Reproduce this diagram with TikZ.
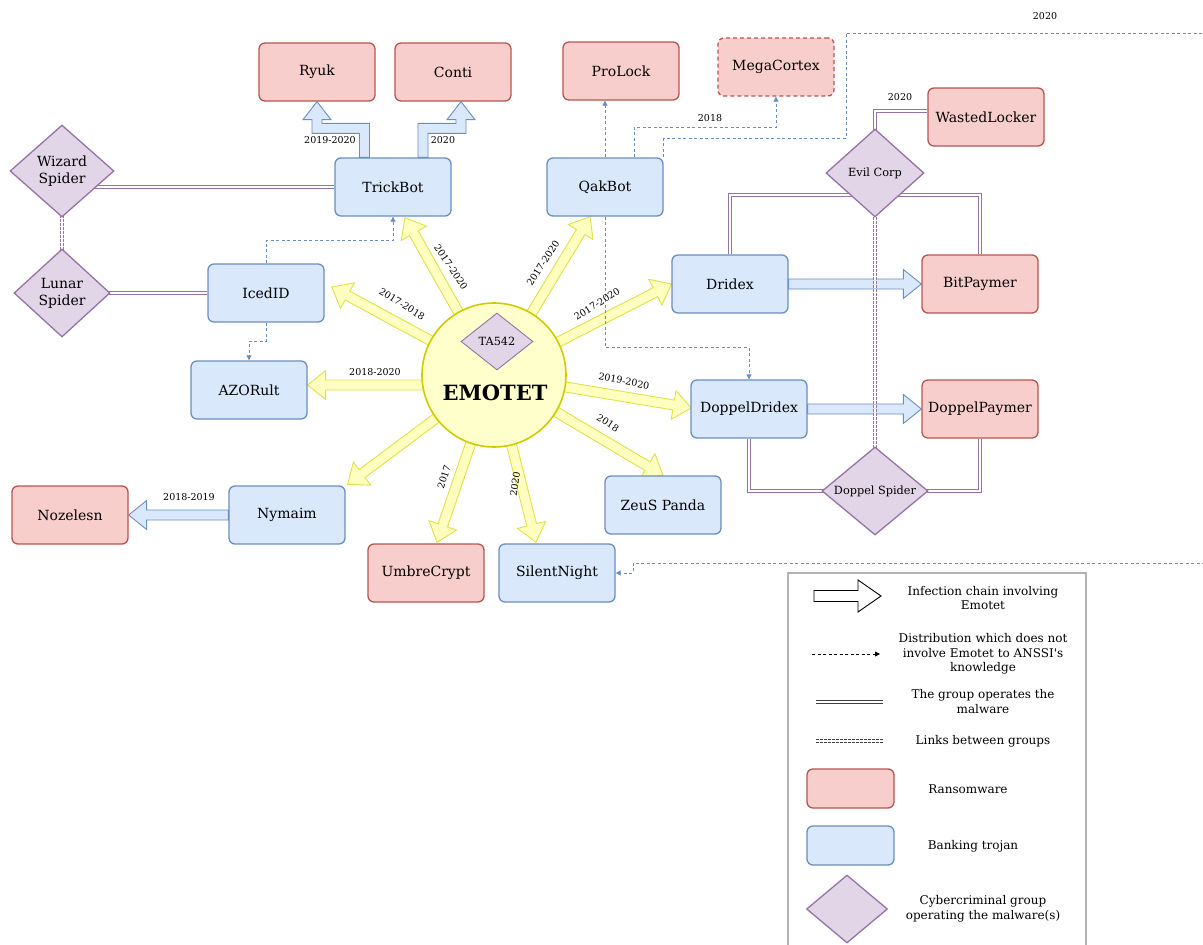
\documentclass[tikz,border=0pt]{standalone}
\usepackage{fontspec}
\setmainfont{DejaVu Serif}
\usetikzlibrary{shapes.geometric,calc,arrows.meta}
\definecolor{rfill}{HTML}{F8CECC}
\definecolor{rdraw}{HTML}{B85450}
\definecolor{bfill}{HTML}{DAE8FC}
\definecolor{bdraw}{HTML}{6C8EBF}
\definecolor{gfill}{HTML}{E1D5E7}
\definecolor{gdraw}{HTML}{9673A6}
\definecolor{efill}{HTML}{FFFFCC}
\definecolor{edraw}{HTML}{CCCC00}
\definecolor{yfill}{HTML}{FFFFC0}
\definecolor{ydraw}{HTML}{E0E04A}
\definecolor{lgray}{HTML}{B3B3B3}
\pgfdeclarelayer{bg}
\pgfsetlayers{bg,main}

\newcommand{\fatarrowx}[6][]{%
  \coordinate (fab) at ($(#3)!#6pt!(#2)$);
  \draw[#1] ($(#2)!#4pt!90:(#3)$) -- ($(fab)!#4pt!90:(#3)$) -- ($(fab)!#5pt!90:(#3)$) -- (#3)
    -- ($(fab)!#5pt!-90:(#3)$) -- ($(fab)!#4pt!-90:(#3)$) -- ($(#2)!#4pt!-90:(#3)$) -- cycle;}
\newcommand{\fatarrow}[3][]{\fatarrowx[#1]{#2}{#3}{5}{14.5}{18}}
\newcommand{\zarrow}[4][]{%
  \pgfmathsetmacro{\zp}{(#2)*5}\pgfmathsetmacro{\zn}{-(#2)*5}%
  \pgfmathsetmacro{\zP}{(#2)*14}\pgfmathsetmacro{\zN}{-(#2)*14}%
  \coordinate (zm) at ($(#3)+(0,-29)$);
  \draw[#1] ($(#3)+(\zp,0)$) -- ($(#3 |- zm)+(\zp,5)$) -- ($(#4 |- zm)+(\zp,5)$)
    -- ($(#4)+(\zp,18)$) -- ($(#4)+(\zP,18)$) -- (#4) -- ($(#4)+(\zN,18)$)
    -- ($(#4)+(\zn,18)$) -- ($(#4 |- zm)+(\zn,-5)$) -- ($(#3 |- zm)+(\zn,-5)$)
    -- ($(#3)+(\zn,0)$) -- cycle;}

\tikzset{
  box/.style={rectangle, rounded corners=6pt, minimum width=116pt, minimum height=58pt,
    line width=1.3pt, inner sep=1pt, font=\fontsize{14}{16}\selectfont},
  ransom/.style={box, fill=rfill, draw=rdraw},
  bank/.style={box, fill=bfill, draw=bdraw},
  group/.style={diamond, aspect=1.2, inner sep=0pt, fill=gfill, draw=gdraw, line width=1.3pt,
    align=center, font=\fontsize{14}{17}\selectfont},
  smallgroup/.style={group, font=\fontsize{11.3}{13}\selectfont},
  emo/.style={circle, minimum size=144pt, inner sep=0pt, fill=efill, draw=edraw, line width=1.6pt},
  yarrow/.style={fill=yfill, draw=ydraw, line width=0.9pt, line join=miter},
  barrow/.style={fill=bfill, draw=bdraw, line width=0.9pt, line join=miter},
  legarrow/.style={fill=white, draw=black, line width=0.9pt, line join=miter},
  operates/.style={draw=gdraw, double=white, double distance=2.6pt, line width=0.9pt},
  grouplink/.style={operates, dash pattern=on 2.5pt off 1.5pt},
  dist/.style={draw=bdraw, line width=0.8pt, dash pattern=on 3pt off 2.5pt,
    -{Triangle[length=5pt,width=5pt]}},
  yearlbl/.style={font=\fontsize{9.5}{11}\selectfont, inner sep=1pt},
  legtext/.style={align=center, font=\fontsize{12}{14.5}\selectfont},
  legframe/.style={draw=lgray, line width=2.5pt},
  legdash/.style={draw=black, line width=0.8pt, dash pattern=on 3pt off 2.5pt,
    -{Triangle[length=5pt,width=5pt]}},
  legdouble/.style={draw=black!75, double=white, double distance=2.4pt, line width=0.9pt},
  legdotdouble/.style={legdouble, dash pattern=on 2.5pt off 1.5pt},
}

\begin{document}
\begin{tikzpicture}[x=1pt, y=-1pt]
\useasboundingbox (0,0) rectangle (1203,945);

% nodes
\node[ransom] (ryuk) at (317,72) {Ryuk};
\node[ransom] (conti) at (453,72) {Conti};
\node[ransom] (prolock) at (621,71) {ProLock};
\node[ransom, dash pattern=on 4pt off 3pt] (mega) at (776,67) {MegaCortex};
\node[ransom] (wasted) at (986,117) {WastedLocker};
\node[bank] (trick) at (393,187) {TrickBot};
\node[bank] (qak) at (605,187) {QakBot};
\node[group, minimum width=104pt, minimum height=92pt] (wiz) at (62,171) {Wizard\\Spider};
\node[group, minimum width=96pt, minimum height=88pt] (lunar) at (62,293) {Lunar\\Spider};
\node[smallgroup, minimum width=98pt, minimum height=88pt] (evil) at (875,173) {Evil Corp};
\node[bank] (iced) at (266,293) {IcedID};
\node[bank] (dridex) at (730,284) {Dridex};
\node[ransom] (bitp) at (980,284) {BitPaymer};
\node[bank] (azo) at (249,390) {AZORult};
\node[emo] (emo) at (494,375) {};
\node[smallgroup, minimum width=72pt, minimum height=57pt, line width=0.9pt] (ta) at (497,341.5) {TA542};
\node[font=\fontsize{21}{24}\selectfont\bfseries] (emot) at (495,393) {EMOTET};
\node[bank] (ddridex) at (749,409) {DoppelDridex};
\node[ransom] (dpaymer) at (980,409) {DoppelPaymer};
\node[smallgroup, minimum width=106pt, minimum height=88pt] (dspider) at (875,491) {Doppel Spider};
\node[bank] (zeus) at (663,505) {ZeuS Panda};
\node[bank] (nymaim) at (287,515) {Nymaim};
\node[ransom] (noz) at (70,515) {Nozelesn};
\node[ransom] (umbre) at (426,573) {UmbreCrypt};
\node[bank] (silent) at (557,573) {SilentNight};

\begin{pgfonlayer}{bg}
% yellow infection arrows from Emotet
\coordinate (tTB) at ($(trick.south)+(12,1)$);
\coordinate (tIC) at ($(iced.east)+(7,-6)$);
\coordinate (tAZ) at ($(azo.east)+(0,-5)$);
\coordinate (tNY) at ($(nymaim.north east)+(2,-1)$);
\coordinate (tUC) at ($(umbre.north)+(11,-1)$);
\coordinate (tSN) at ($(silent.north)+(-21,-1)$);
\coordinate (tZP) at (zeus.north);
\coordinate (tDD) at ($(ddridex.west)+(1,-1)$);
\coordinate (tDX) at (dridex.west);
\coordinate (tQB) at ($(qak.south)+(-15,0)$);
\foreach \t in {TB,IC,NY,UC,SN,ZP,DD,DX,QB}{
  \coordinate (s\t) at ($(emo)!40pt!(t\t)$);
}
\coordinate (sAZ) at (emo.center |- tAZ);
\foreach \t in {TB,IC,AZ,NY,UC,SN,ZP,DD,DX,QB}{
  \fatarrow[yarrow]{s\t}{t\t}
}

% blue infection arrows
\fatarrow[barrow]{dridex.east}{bitp.west}
\fatarrow[barrow]{ddridex.east}{dpaymer.west}
\fatarrow[barrow]{nymaim.west}{noz.east}
\coordinate (zs1) at ($(trick.north)+(-28.5,0)$);
\zarrow[barrow]{-1}{zs1}{ryuk.south}
\coordinate (zs2) at ($(trick.north)+(30,0)$);
\coordinate (ze2) at ($(conti.south)+(8,0)$);
\zarrow[barrow]{1}{zs2}{ze2}

% group operates malware
\draw[operates] (trick.west) -- (wiz.center |- trick.west);
\draw[operates] (iced.west) -- (lunar.center |- iced.west);
\draw[operates] (evil.center) |- ($(wasted.west)+(0,-6)$);
\draw[operates] (dridex.north) |- ($(evil.center)+(0,22)$) -| (bitp.north);
\draw[operates] (ddridex.south) |- (dspider.center) -| (dpaymer.south);

% links between groups
\draw[grouplink] (wiz.center) -- (lunar.center);
\draw[grouplink] (evil.center) -- (dspider.center);

% distribution not involving Emotet
\draw[dist] (iced.north) |- ($(trick.south)+(0,24)$) -- (trick.south);
\draw[dist] (iced.south) |- ($(azo.north)+(0,-19)$) -- (azo.north);
\draw[dist] (qak.north) -- (qak.north |- prolock.south);
\draw[dist] ($(qak.north)+(29,0)$) |- ($(mega.south)+(0,31)$) -- (mega.south);
\draw[dist] (qak.south) |- ($(ddridex.north)+(0,-32)$) -- (ddridex.north);
\begin{scope}
  \clip (0,0) rectangle (1203,945);
  \draw[dist] (qak.north east) -- ($(qak.north east)+(0,-19)$) -| (846,33) -- (1215,33)
    -- (1215,563) -- (633,563) |- (silent.east);
\end{scope}
\end{pgfonlayer}

% labels
\node[yearlbl, rotate=-56] (l1) at (451,267) {2017-2020};
\node[yearlbl, rotate=-32] (l2) at (402,304) {2017-2018};
\node[yearlbl] (l3) at (375,372) {2018-2020};
\node[yearlbl, rotate=57] (l4) at (543,263) {2017-2020};
\node[yearlbl, rotate=32] (l5) at (597,304) {2017-2020};
\node[yearlbl, rotate=-11] (l6) at (624,381) {2019-2020};
\node[yearlbl, rotate=-33] (l7) at (608,423) {2018};
\node[yearlbl, rotate=72] (l8) at (444,477) {2017};
\node[yearlbl, rotate=82] (l9) at (515,484) {2020};
\node[yearlbl] (l10) at (330,140) {2019-2020};
\node[yearlbl] (l11) at (443,140) {2020};
\node[yearlbl] (l12) at (189,497) {2018-2019};
\node[yearlbl] (l13) at (710,118) {2018};
\node[yearlbl] (l14) at (900,97) {2020};
\node[yearlbl] (l15) at (1045,16) {2020};

% legend
\draw[legframe] (788,955) -- (788,573) -- (1086,573) -- (1086,955);
\coordinate (la1) at (814,596);
\coordinate (la2) at (881,596);
\fatarrowx[legarrow]{la1}{la2}{5.5}{16}{23}
\node[legtext] (lt1) at (983,598) {Infection chain involving\\Emotet};
\coordinate (ld1) at (812,654);
\coordinate (ld2) at (880,654);
\draw[legdash] (ld1) -- (ld2);
\node[legtext] (lt2) at (983,654) {Distribution which does not\\involve Emotet to ANSSI\textquotesingle s\\knowledge};
\coordinate (lo1) at (816,702);
\coordinate (lo2) at (883,702);
\draw[legdouble] (lo1) -- (lo2);
\node[legtext] (lt3) at (983,701.5) {The group operates the\\malware};
\coordinate (lk1) at (816,741);
\coordinate (lk2) at (883,741);
\draw[legdotdouble] (lk1) -- (lk2);
\node[legtext] (lt4) at (983,741) {Links between groups};
\node[ransom, minimum width=87pt, minimum height=39pt] (lr) at (850.5,788.5) {};
\node[legtext] (lt5) at (968,789) {Ransomware};
\node[bank, minimum width=87pt, minimum height=39pt] (lb) at (850.5,845.5) {};
\node[legtext] (lt6) at (973,846) {Banking trojan};
\node[group, minimum width=81pt, minimum height=68pt] (lg) at (847,909) {};
\node[legtext] (lt7) at (983,909) {Cybercriminal group\\operating the malware(s)};
\end{tikzpicture}
\end{document}
